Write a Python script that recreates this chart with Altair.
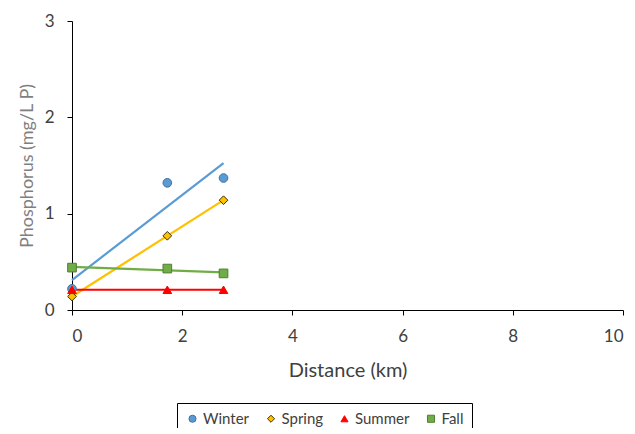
import altair as alt
import pandas as pd

seasons = ["Winter", "Spring", "Summer", "Fall"]
distance = [0.0, 1.73, 2.75]
winter = [0.22, 1.32, 1.37]
spring = [0.14, 0.77, 1.14]
summer = [0.21, 0.21, 0.21]
fall = [0.44, 0.43, 0.38]

fill_colors = ["#5B9BD5", "#FFC000", "#FF0000", "#70AD47"]
edge_colors = ["#41719C", "#3A3000", "#FF0000", "#507E32"]
line_colors = ["#5B9BD5", "#FFC000", "#FF0000", "#70AD47"]
shapes = ["circle", "diamond", "triangle-up", "square"]

rows = []
for s, vals in zip(seasons, [winter, spring, summer, fall]):
    for d, v in zip(distance, vals):
        rows.append({"Season": s, "Distance": d, "P": v})
df = pd.DataFrame(rows)

x_enc = alt.X("Distance:Q", scale=alt.Scale(domain=[0, 10], nice=False),
              axis=alt.Axis(title="Distance (km)", values=[0, 2, 4, 6, 8, 10],
                            grid=False, domainColor="#000000", tickColor="#000000",
                            tickSize=5, labelPadding=13, titlePadding=16,
                            labelFontSize=17, titleFontSize=20,
                            labelColor="#404040", titleColor="#404040",
                            titleFontWeight="normal"))
y_enc = alt.Y("P:Q", scale=alt.Scale(domain=[0, 3], nice=False),
              axis=alt.Axis(title="Phosphorus (mg/L P)", values=[0, 1, 2, 3],
                            grid=False, domainColor="#000000", tickColor="#000000",
                            tickSize=5, labelPadding=13, titlePadding=8,
                            labelFontSize=17, titleFontSize=18,
                            labelColor="#404040", titleColor="#7F7F7F",
                            titleFontWeight="normal"))

# line scale uses reversed order so its (hidden) legend is not merged with the marker legend
lines = alt.Chart(df).transform_regression(
    "Distance", "P", groupby=["Season"]
).mark_line(strokeWidth=2.2).encode(
    x=x_enc, y=y_enc,
    color=alt.Color("Season:N", scale=alt.Scale(domain=seasons[::-1], range=line_colors[::-1]), legend=None),
)

points = alt.Chart(df).mark_point(filled=True, size=75, strokeWidth=1, opacity=1).encode(
    x=x_enc, y=y_enc,
    fill=alt.Fill("Season:N", scale=alt.Scale(domain=seasons, range=fill_colors)),
    stroke=alt.Stroke("Season:N", scale=alt.Scale(domain=seasons, range=edge_colors)),
    shape=alt.Shape("Season:N", scale=alt.Scale(domain=seasons, range=shapes)),
)

chart = alt.layer(lines, points).properties(
    width=551, height=289,
    autosize=alt.AutoSizeParams(type="none"),
    padding={"left": 64, "top": 13, "right": 4, "bottom": 118},
).configure(font="Lato").configure_view(stroke=None).configure_legend(
    title=None, orient="none", legendX=105, legendY=382,
    direction="horizontal", columns=4, strokeColor="#000000",
    padding=8, labelFontSize=15, labelColor="#404040",
    symbolSize=50, columnPadding=13.5, labelOffset=3, symbolStrokeWidth=1,
)

chart.save("out.html", embed_options={"renderer": "svg", "actions": False})
